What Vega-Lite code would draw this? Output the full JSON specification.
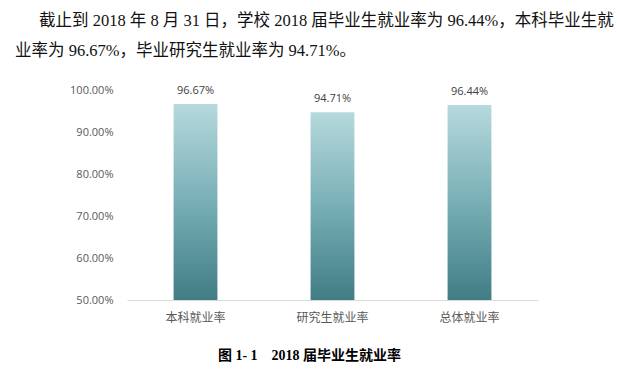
{
  "$schema": "https://vega.github.io/schema/vega-lite/v6.json",
  "width": 411,
  "height": 210,
  "autosize": {"type": "none"},
  "padding": {"left": 127, "top": 90, "right": 79, "bottom": 70},
  "background": "white",
  "view": {"stroke": null},
  "title": {
    "text": ["\u2800\u2800截止到 2018 年 8 月 31 日，学校 2018 届毕业生就业率为 96.44%，本科毕业生就", "业率为 96.67%，毕业研究生就业率为 94.71%。"],
    "anchor": "start",
    "frame": "group",
    "dx": -112,
    "font": "Liberation Serif, Noto Sans CJK SC",
    "fontSize": 16.5,
    "fontWeight": "normal",
    "color": "#111111",
    "lineHeight": 30,
    "offset": 25
  },
  "data": {
    "values": [
      {"类别": "本科就业率", "就业率": 0.9667},
      {"类别": "研究生就业率", "就业率": 0.9471},
      {"类别": "总体就业率", "就业率": 0.9644}
    ]
  },
  "encoding": {
    "x": {
      "field": "类别",
      "type": "nominal",
      "sort": null,
      "scale": {"paddingInner": 0.68, "paddingOuter": 0.34},
      "axis": {
        "title": "图 1- 1　2018 届毕业生就业率",
        "titleFont": "Liberation Serif, Noto Sans CJK SC",
        "titleFontSize": 14,
        "titleFontWeight": "bold",
        "titleColor": "#000000",
        "titleX": 182,
        "titleY": 55,
        "titleBaseline": "middle",
        "titleAnchor": "middle",
        "labelAngle": 0,
        "labelFont": "Noto Sans CJK SC",
        "labelFontSize": 12,
        "labelColor": "#595959",
        "labelPadding": 12,
        "ticks": false,
        "domainColor": "#d9d9d9",
        "grid": false
      }
    },
    "y": {
      "field": "就业率",
      "type": "quantitative",
      "scale": {"domain": [0.5, 1.0], "nice": false, "zero": false},
      "axis": {
        "format": ".2%",
        "values": [0.5, 0.6, 0.7, 0.8, 0.9, 1.0],
        "title": null,
        "domain": false,
        "ticks": false,
        "grid": false,
        "labelFont": "Open Sans",
        "labelFontSize": 11,
        "labelColor": "#595959",
        "labelPadding": 14
      }
    }
  },
  "layer": [
    {
      "mark": {
        "type": "bar",
        "color": {
          "gradient": "linear",
          "x1": 0, "y1": 0, "x2": 0, "y2": 1,
          "stops": [
            {"offset": 0, "color": "#b6d9dd"},
            {"offset": 0.5, "color": "#78afb6"},
            {"offset": 1, "color": "#417c85"}
          ]
        }
      },
      "encoding": {"y2": {"datum": 0.5}}
    },
    {
      "mark": {"type": "text", "dy": -13, "font": "Open Sans", "fontSize": 11, "color": "#404040"},
      "encoding": {"text": {"field": "就业率", "type": "quantitative", "format": ".2%"}}
    }
  ]
}
